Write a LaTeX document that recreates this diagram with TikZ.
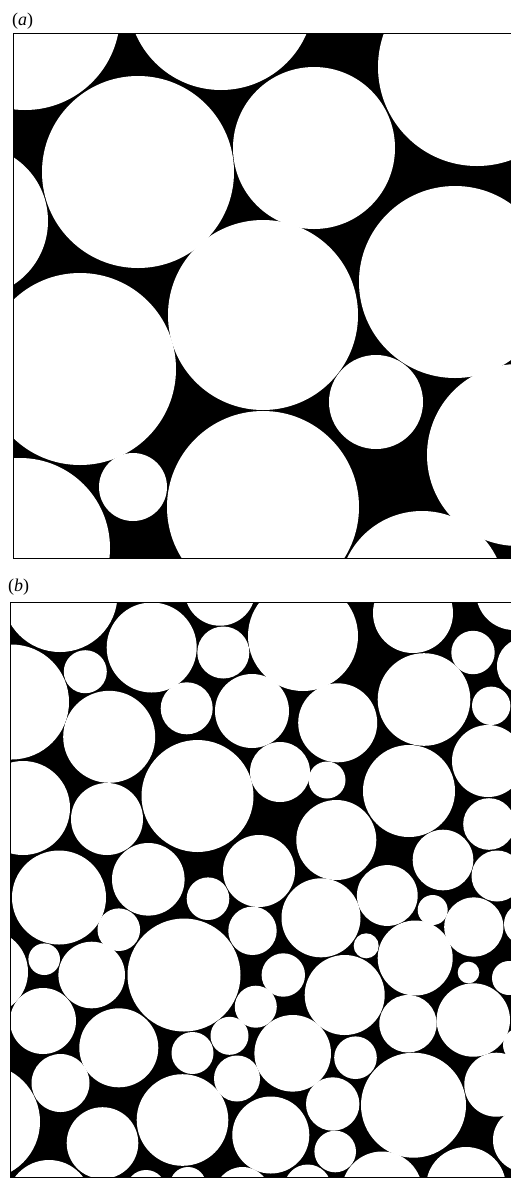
\documentclass[tikz,border=0pt]{standalone}
\usepackage{fontspec}
\setmainfont{Liberation Serif}
\usepackage{tikz}
\tikzset{
  % pore space behind the grains
  pore/.style={fill=black},
  % one grain
  grain/.style={fill=white},
  % panel outline
  frame/.style={draw=black, line width=0.8pt},
  % panel letter
  tag/.style={font=\fontsize{18}{20}\selectfont, inner sep=0pt, anchor=base west}
}
\begin{document}
\begin{tikzpicture}[x=1pt, y=-1pt]
  \useasboundingbox (0,0) rectangle (511,1179);

  % Panel (a): coarse packing
  \node[tag] (taga) at (12,25) {(\textit{a})};
  \fill[pore] (13,33.3) rectangle (514,558);
  \begin{scope}
    \clip (13,33.3) rectangle (514,558);
    \foreach \x/\y/\r in {25/15/95, 221/-3/93, 138/172/96, 314/148/81,
        477/67/99, -28/221/76, 80/369/96, 263/315/95, 455/282/96,
        376/402/47, 518/455/91, 133/487/34, 20/548/90, 263/507/96,
        422/594/83}
      \fill[grain] (\x,\y) circle[radius=\r pt];
  \end{scope}
  \draw[frame] (13,33.3) rectangle (514,558);

  % Panel (b): fine packing
  \node[tag] (tagb) at (8,591) {(\textit{b})};
  \fill[pore] (10.5,602) rectangle (514,1177.5);
  \begin{scope}
    \clip (10.5,602) rectangle (514,1177.5);
    \foreach \x/\y/\r in {60/594.5/57.5, 11.5/702/57.5, 85.3/671.7/21.5,
        151.7/647.5/45, 220/590.4/35.3, 223.3/652.5/26, 303/636/55,
        186.7/708.3/26, 252/711/37, 109.2/736.8/46, 197.5/796/56,
        23/808/47, 107/819/36, 413/613/40, 514/592/38, 473/652.5/21.7,
        525/666/28, 424/699.5/46.3, 491.2/705.8/19.2, 337.7/722.8/39.5,
        280/772/30, 327/780/18.5, 409/791/46, 488/761/36}
      \fill[grain] (\x,\y) circle[radius=\r pt];
    \foreach \x/\y/\r in {259/871/36, 59/897.5/47, 148.3/879.3/36.3,
        208/898.7/21.3, 118.8/929.7/21.3, 252.5/930.8/24.2, 184/975/56.5,
        -14.5/972/42.5, 44.2/959.2/15.8, 91.7/975/33.3, 336.3/840/40,
        443/860/30.3, 489/824/25.8, 497/876/25.5, 321/917.8/39.5,
        387.3/895.5/30.4, 432.7/910/15, 473.8/927/29.6, 525/924/21,
        366.2/945.8/12.5, 415.2/958/37.5, 468.5/972.5/10.8, 509/978/17,
        283.3/975/21.7, 344.7/995/40}
      \fill[grain] (\x,\y) circle[radius=\r pt];
    \foreach \x/\y/\r in {43/1021/33, 118.8/1047.8/39.5, 192.5/1053/21,
        229.5/1035.8/19, 255.8/1006.7/21, 237/1078.5/23, 60.5/1083/29,
        -17.6/1121.7/57.6, 182.5/1120/45.8, 102.5/1143/35.8,
        49/1202.5/42.5, 146/1190/20, 188/1185/18, 242.5/1195/28,
        270.8/1135/38.5, 292.7/1053.3/38.3, 355.5/1057.7/21.3,
        332.7/1104/26.7, 335.2/1151.5/20.8, 413.5/1105.2/52.5,
        408/1023.7/28.7, 473.3/1020/36.7, 520/1045/17, 496.3/1084.7/32,
        525/1140/32, 466/1187/40, 382/1192/40.5, 307.7/1188/23.5}
      \fill[grain] (\x,\y) circle[radius=\r pt];
  \end{scope}
  \draw[frame] (10.5,602) rectangle (514,1177.5);
\end{tikzpicture}
\end{document}
